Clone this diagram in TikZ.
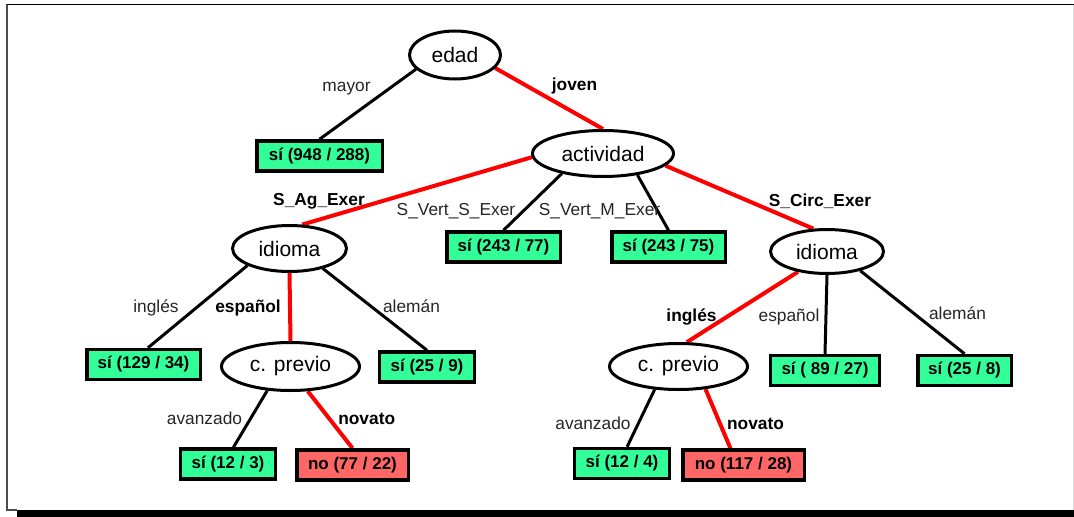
\documentclass[tikz,border=0pt]{standalone}
\usepackage{fontspec}
\setmainfont{Liberation Sans}
\usetikzlibrary{shapes.geometric}
\definecolor{leafgreen}{RGB}{51,255,153}
\definecolor{leafred}{RGB}{255,102,102}
\definecolor{pathred}{RGB}{255,0,0}
\pgfdeclarelayer{background}
\pgfsetlayers{background,main}

\begin{document}
\begin{tikzpicture}[x=0.75pt,y=-0.75pt,
  attr/.style={ellipse, draw, line width=2.25pt, fill=white, inner sep=0pt,
    font=\fontsize{15.75}{18}\selectfont},
  leaf/.style={rectangle, draw, line width=2.6pt, fill=leafgreen, inner sep=0pt,
    minimum height=22.5pt, font=\bfseries\fontsize{12.75}{15}\selectfont},
  leafno/.style={leaf, fill=leafred},
  branch/.style={line width=2.25pt, black},
  chosen/.style={line width=3pt, pathred},
  lab/.style={anchor=base, inner sep=0pt, text=black!85,
    font=\fontsize{13}{15}\selectfont},
  labb/.style={lab, text=black, font=\bfseries\fontsize{13}{15}\selectfont},
]
\useasboundingbox (0,0) rectangle (1074,517);

% decision nodes
\node[attr, minimum width=68.25pt, minimum height=36pt]   (edad) at (455,55)    {edad};
\node[attr, minimum width=105.75pt, minimum height=34.5pt] (act) at (603,153.5) {actividad};
\node[attr, minimum width=85.5pt, minimum height=34.5pt]  (id1)  at (289.5,248.5) {idioma};
\node[attr, minimum width=84.75pt, minimum height=33pt]   (id2)  at (827,251.5) {idioma};
\node[attr, minimum width=103.5pt, minimum height=36pt]   (cp1)  at (290.5,366.5) {c. previo};
\node[attr, minimum width=103.5pt, minimum height=34.5pt] (cp2)  at (678.5,366.5) {c. previo};

% leaves
\node[leaf, minimum width=94.1pt] (b948) at (319.5,156) {sí (948 / 288)};
\node[leaf, minimum width=85.1pt] (b77)  at (503.5,247) {sí (243 / 77)};
\node[leaf, minimum width=85.1pt] (b75)  at (668.5,247) {sí (243 / 75)};
\node[leaf, minimum width=85.1pt] (b34)  at (143.5,364.5) {sí (129 / 34)};
\node[leaf, minimum width=70.9pt] (b9)   at (427,367) {sí (25 / 9)};
\node[leaf, minimum width=70.9pt] (b3)   at (228,464) {sí (12 / 3)};
\node[leafno, minimum width=83.6pt] (b22) at (352.5,465) {no (77 / 22)};
\node[leaf, minimum width=81.4pt] (b27)  at (825,370.5) {sí ( 89 / 27)};
\node[leaf, minimum width=70.1pt] (b8)   at (964.5,370.5) {sí (25 / 8)};
\node[leaf, minimum width=70.9pt] (b4)   at (622,463.5) {sí (12 / 4)};
\node[leafno, minimum width=91.1pt] (b28) at (743.5,465) {no (117 / 28)};

\begin{pgfonlayer}{background}
% frame with drop shadow
\fill[white] (0,0) rectangle (1074,517);
\fill[black] (17,510) rectangle (1074,517);
\draw[black!15, line width=0.75pt] (1073,5) -- (1073,510);
\draw[black!70, line width=1.5pt] (17,510) -- (7,510) -- (7,4.5);
\draw[black, line width=1.2pt] (7,4.5) -- (1074,4.5);

% branches
\draw[branch] (edad.200) -- (b948.north);
\draw[chosen] (edad.342) -- (act.north);
\draw[chosen] (act.183) -- (id1.62);
\draw[branch] (act.206) -- (b77.north);
\draw[branch] (act.328) -- (b75.north);
\draw[chosen] (act.349) -- (id2.121);
\draw[branch] (id1.202) -- (b34.75);
\draw[chosen] (id1.south) -- (cp1.north);
\draw[branch] (id1.329) -- (b9.north);
\draw[branch] (cp1.226) -- (b3.72);
\draw[chosen] (cp1.305) -- (b22.north);
\draw[chosen] (id2.215) -- (cp2.71);
\draw[branch] (id2.south) -- (b27.north);
\draw[branch] (id2.330) -- (b8.north);
\draw[branch] (cp2.224) -- (b4.73);
\draw[chosen] (cp2.320) -- (b28.128);
\end{pgfonlayer}

% branch labels
\node[lab]  (l1)  at (346.5,91)  {mayor};
\node[labb] (l2)  at (574.5,90)  {joven};
\node[labb] (l3)  at (319,205)   {S\_Ag\_Exer};
\node[lab]  (l4)  at (456,215)   {S\_Vert\_S\_Exer};
\node[lab]  (l5)  at (599.5,215) {S\_Vert\_M\_Exer};
\node[labb] (l6)  at (820,206)   {S\_Circ\_Exer};
\node[lab]  (l7)  at (156,312)   {inglés};
\node[labb] (l8)  at (248,312)   {español};
\node[lab]  (l9)  at (411.5,312) {alemán};
\node[lab]  (l10) at (204.5,424) {avanzado};
\node[labb] (l11) at (366.7,424) {novato};
\node[labb] (l12) at (691.5,321) {inglés};
\node[lab]  (l13) at (789,321)   {español};
\node[lab]  (l14) at (957.5,319) {alemán};
\node[lab]  (l15) at (593,429)   {avanzado};
\node[labb] (l16) at (755.5,429) {novato};
\end{tikzpicture}
\end{document}
